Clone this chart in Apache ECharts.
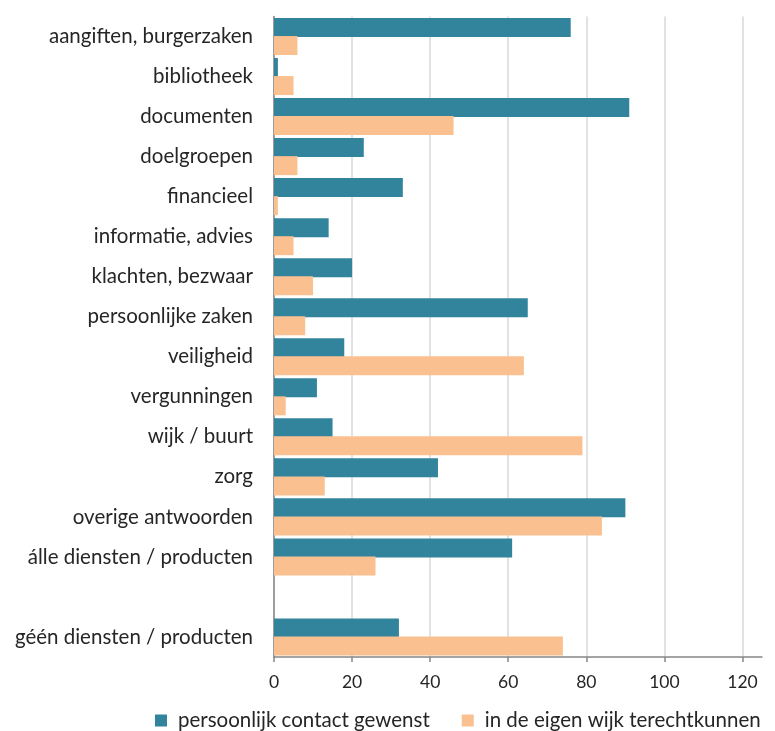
<!DOCTYPE html>
<html lang="nl">
<head>
  <meta charset="UTF-8" />
  <title>Diensten en producten</title>
  <script src="https://cdn.jsdelivr.net/npm/echarts@6.0.0/dist/echarts.min.js"></script>
  <style>
    body { margin: 0; background: #fff; overflow: hidden; }
    #main { width: 775px; height: 731px; }
  </style>
</head>
<body>
  <div id="main"></div>
  <script>
    const categories = [
      'aangiften, burgerzaken', 'bibliotheek', 'documenten', 'doelgroepen',
      'financieel', 'informatie, advies', 'klachten, bezwaar', 'persoonlijke zaken',
      'veiligheid', 'vergunningen', 'wijk / buurt', 'zorg',
      'overige antwoorden', 'álle diensten / producten', '', 'géén diensten / producten'
    ];
    const contactValues = [76, 1, 91, 23, 33, 14, 20, 65, 18, 11, 15, 42, 90, 61, null, 32];
    const wijkValues = [6, 5, 46, 6, 1, 5, 10, 8, 64, 3, 79, 13, 84, 26, null, 74];
    const seriesNames = ['persoonlijk contact gewenst', 'in de eigen wijk terechtkunnen'];

    const font = 'Lato, "Open Sans", sans-serif';
    const chart = echarts.init(document.getElementById('main'));

    chart.setOption({
      animation: false,
      textStyle: { fontFamily: font },
      grid: {
        left: 274, right: 13, top: 16.5, bottom: 74,
        containLabel: false, outerBoundsMode: 'none'
      },
      legend: {
        left: 150, top: 705,
        itemWidth: 12, itemHeight: 12, itemGap: 32,
        icon: 'rect',
        textStyle: { fontSize: 20.5, color: '#262626', padding: [0, 0, 0, 6] },
        data: seriesNames
      },
      xAxis: {
        type: 'value',
        min: 0, max: 125, interval: 20,
        axisLine: { show: true, lineStyle: { color: '#868686', width: 1.5 } },
        axisTick: { show: true, length: 5, lineStyle: { color: '#868686', width: 1.5 } },
        axisLabel: { fontSize: 17.5, color: '#262626', margin: 16, showMaxLabel: false },
        splitLine: { show: true, showMaxLine: false, lineStyle: { color: '#D9D9D9', width: 1.5 } }
      },
      yAxis: {
        type: 'category',
        inverse: true,
        data: categories,
        axisLine: { show: true, lineStyle: { color: '#868686', width: 1.5 } },
        axisTick: { show: false },
        axisLabel: { fontSize: 20.5, color: '#262626', margin: 21 }
      },
      series: [
        {
          name: seriesNames[0], type: 'bar', data: contactValues,
          barWidth: 19, barGap: '-5%',
          itemStyle: { color: '#31849B' }
        },
        {
          name: seriesNames[1], type: 'bar', data: wijkValues,
          barWidth: 19, barGap: '-5%',
          itemStyle: { color: '#FAC08F' }
        }
      ]
    });
  </script>
</body>
</html>
